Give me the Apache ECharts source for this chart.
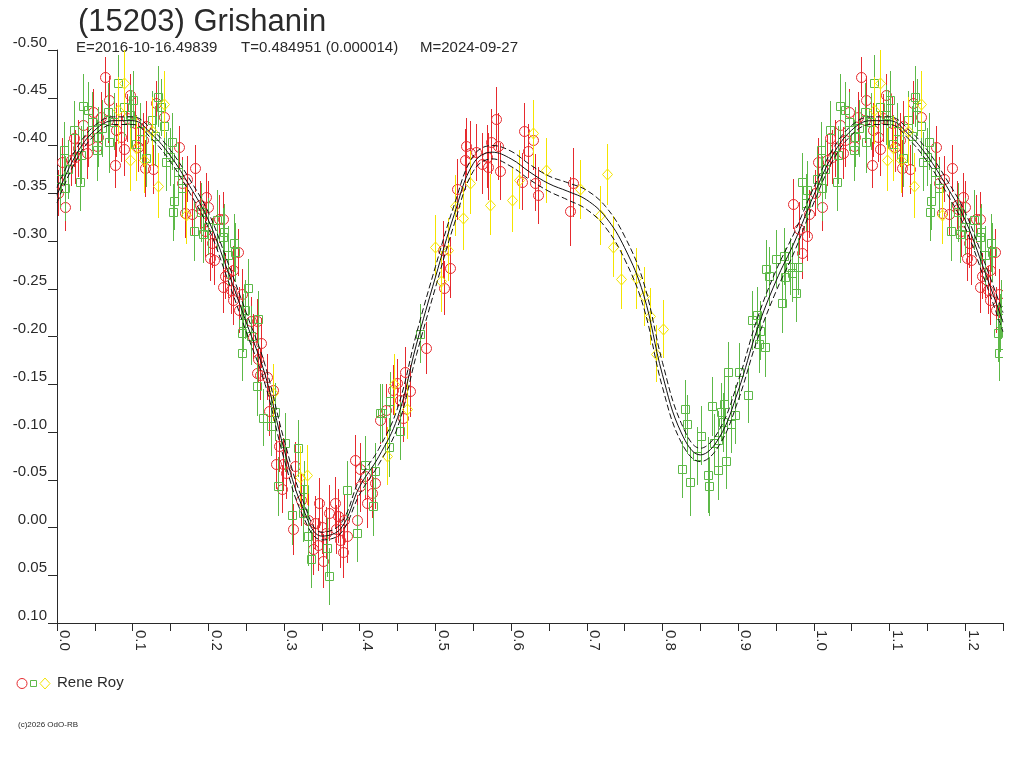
<!DOCTYPE html>
<html>
<head>
<meta charset="utf-8">
<script src="https://cdn.jsdelivr.net/npm/echarts@6/dist/echarts.min.js"></script>
<style>
  html, body { margin: 0; padding: 0; background: #fff; }
  #chart { width: 1024px; height: 768px; }
</style>
</head>
<body>
<div id="chart"></div>
<script>
// ── Lightcurve data: [phase, mag, error] ─────────────────────────────────
const redPts = [
  [0.063,-0.472,0.021],[0.069,-0.448,0.025],[0.096,-0.453,0.022],[0.047,-0.435,0.024],
  [0.022,-0.408,0.030],[0.006,-0.383,0.025],[0.018,-0.385,0.027],[0.001,-0.350,0.024],
  [0.011,-0.336,0.026],[0.028,-0.397,0.030],[0.041,-0.406,0.028],[0.054,-0.409,0.025],
  [0.067,-0.427,0.024],[0.078,-0.416,0.028],[0.085,-0.409,0.026],[0.092,-0.429,0.025],
  [0.103,-0.424,0.027],[0.077,-0.380,0.024],[0.114,-0.406,0.028],[0.127,-0.375,0.026],
  [0.116,-0.376,0.030],[0.131,-0.445,0.023],[0.141,-0.430,0.026],[0.161,-0.398,0.022],
  [0.182,-0.376,0.025],[0.165,-0.361,0.027],[0.172,-0.365,0.024],[0.169,-0.329,0.026],
  [0.178,-0.328,0.023],[0.197,-0.346,0.025],[0.190,-0.333,0.024],[0.200,-0.336,0.027],
  [0.214,-0.323,0.025],[0.202,-0.282,0.024],[0.208,-0.280,0.026],[0.239,-0.288,0.025],
  [0.219,-0.323,0.028],[0.226,-0.266,0.026],[0.189,-0.338,0.025],[0.222,-0.263,0.024],
  [0.219,-0.252,0.027],[0.230,-0.249,0.025],[0.233,-0.238,0.026],[0.241,-0.228,0.024],
  [0.257,-0.216,0.025],[0.264,-0.216,0.023],[0.270,-0.193,0.026],[0.259,-0.200,0.024],
  [0.266,-0.176,0.025],[0.268,-0.160,0.027],[0.277,-0.158,0.024],[0.280,-0.122,0.026],
  [0.285,-0.144,0.025],[0.294,-0.085,0.027],[0.290,-0.066,0.026],[0.299,-0.066,0.028],
  [0.297,-0.040,0.025],[0.303,-0.057,0.027],[0.314,-0.064,0.026],[0.312,0.002,0.027],
  [0.332,-0.008,0.029],[0.338,0.023,0.027],[0.341,-0.005,0.028],[0.346,-0.026,0.026],
  [0.350,-0.001,0.029],[0.352,0.035,0.028],[0.356,0.006,0.027],[0.360,-0.015,0.029],
  [0.367,-0.026,0.027],[0.371,-0.012,0.028],[0.369,0.002,0.026],[0.374,0.013,0.029],
  [0.378,0.026,0.027],[0.383,0.009,0.028],[0.396,-0.008,0.026],[0.394,-0.071,0.026],
  [0.400,-0.061,0.027],[0.407,-0.054,0.025],[0.409,-0.026,0.027],[0.416,-0.036,0.026],
  [0.420,-0.047,0.028],[0.427,-0.113,0.026],[0.435,-0.123,0.027],[0.449,-0.151,0.025],
  [0.460,-0.163,0.026],[0.466,-0.143,0.027],[0.457,-0.115,0.025],[0.453,-0.134,0.026],
  [0.400,-0.043,0.027],[0.345,0.018,0.028],[0.264,-0.162,0.025],[0.323,-0.029,0.027],
  [0.379,-0.008,0.026],[0.444,-0.144,0.026],[0.528,-0.354,0.032],[0.510,-0.291,0.030],
  [0.519,-0.272,0.032],[0.511,-0.251,0.028],[0.541,-0.399,0.030],[0.546,-0.392,0.034],
  [0.539,-0.385,0.032],[0.568,-0.388,0.033],[0.570,-0.378,0.035],[0.574,-0.404,0.034],
  [0.580,-0.428,0.033],[0.583,-0.399,0.035],[0.585,-0.373,0.030],[0.617,-0.415,0.030],
  [0.629,-0.406,0.032],[0.623,-0.394,0.028],[0.614,-0.362,0.030],[0.632,-0.361,0.030],
  [0.636,-0.348,0.030],[0.682,-0.361,0.036],[0.678,-0.331,0.036],[0.488,-0.188,0.027],
  [0.554,-0.393,0.030],[0.562,-0.381,0.032],[0.973,-0.339,0.026],[0.980,-0.313,0.028],
  [0.984,-0.287,0.027],[0.991,-0.305,0.026],[0.993,-0.328,0.025],[0.039,-0.392,0.027],
  [0.053,-0.399,0.026],[0.024,-0.388,0.028],[0.035,-0.421,0.027],[0.058,-0.430,0.026],
  [0.088,-0.396,0.028],[0.107,-0.398,0.026],[0.118,-0.420,0.027],[0.205,-0.298,0.026],
  [0.195,-0.310,0.027],[0.233,-0.270,0.025],[0.245,-0.245,0.026]
];

const greenPts = [
  [0.080,-0.465,0.030],[0.035,-0.441,0.034],[0.041,-0.437,0.030],[0.022,-0.416,0.031],
  [0.009,-0.395,0.030],[0.011,-0.355,0.034],[0.032,-0.390,0.030],[0.031,-0.362,0.031],
  [0.053,-0.395,0.032],[0.067,-0.435,0.030],[0.069,-0.404,0.033],[0.101,-0.448,0.030],
  [0.098,-0.427,0.031],[0.125,-0.427,0.030],[0.134,-0.451,0.032],[0.137,-0.440,0.030],
  [0.142,-0.420,0.031],[0.152,-0.404,0.030],[0.144,-0.383,0.031],[0.149,-0.388,0.030],
  [0.155,-0.342,0.031],[0.153,-0.330,0.030],[0.181,-0.310,0.031],[0.193,-0.307,0.030],
  [0.212,-0.322,0.031],[0.221,-0.309,0.030],[0.219,-0.304,0.031],[0.234,-0.298,0.030],
  [0.235,-0.288,0.031],[0.118,-0.387,0.030],[0.054,-0.409,0.031],[0.105,-0.402,0.030],
  [0.096,-0.432,0.031],[0.252,-0.251,0.030],[0.248,-0.228,0.031],[0.246,-0.214,0.030],
  [0.244,-0.204,0.031],[0.245,-0.183,0.030],[0.257,-0.201,0.031],[0.266,-0.218,0.030],
  [0.264,-0.148,0.031],[0.272,-0.115,0.030],[0.283,-0.106,0.031],[0.288,-0.121,0.030],
  [0.301,-0.089,0.031],[0.318,-0.083,0.030],[0.480,-0.203,0.031],[0.427,-0.120,0.030],
  [0.440,-0.132,0.031],[0.453,-0.101,0.030],[0.292,-0.043,0.031],[0.327,-0.040,0.030],
  [0.310,-0.013,0.031],[0.325,-0.015,0.030],[0.332,0.009,0.031],[0.336,0.033,0.030],
  [0.357,0.021,0.031],[0.360,0.051,0.030],[0.383,-0.039,0.031],[0.396,0.006,0.030],
  [0.407,-0.065,0.031],[0.420,-0.059,0.030],[0.418,-0.022,0.031],[0.429,-0.120,0.030],
  [0.439,-0.084,0.031],[0.830,-0.124,0.030],[0.832,-0.108,0.031],[0.826,-0.061,0.030],
  [0.837,-0.048,0.036],[0.846,-0.075,0.030],[0.851,-0.096,0.031],[0.860,-0.055,0.040],
  [0.862,-0.043,0.031],[0.868,-0.089,0.030],[0.873,-0.060,0.031],[0.874,-0.092,0.030],
  [0.865,-0.127,0.031],[0.877,-0.121,0.030],[0.882,-0.129,0.031],[0.884,-0.070,0.030],
  [0.880,-0.110,0.031],[0.890,-0.108,0.030],[0.887,-0.163,0.031],[0.901,-0.163,0.030],
  [0.896,-0.118,0.031],[0.913,-0.139,0.030],[0.918,-0.217,0.031],[0.925,-0.222,0.030],
  [0.929,-0.206,0.031],[0.927,-0.192,0.030],[0.935,-0.189,0.031],[0.937,-0.271,0.030],
  [0.941,-0.263,0.031],[0.950,-0.281,0.030],[0.958,-0.235,0.031],[0.960,-0.284,0.030],
  [0.962,-0.262,0.031],[0.968,-0.273,0.030],[0.971,-0.267,0.031],[0.979,-0.273,0.030],
  [0.977,-0.246,0.031],[0.984,-0.362,0.030],[0.991,-0.353,0.031],[0.990,-0.340,0.030],
  [0.046,-0.425,0.031],[0.060,-0.418,0.030],[0.088,-0.440,0.031],[0.110,-0.415,0.030],
  [0.015,-0.375,0.031],[0.004,-0.365,0.030],[0.160,-0.372,0.031],[0.165,-0.355,0.030],
  [0.190,-0.330,0.031],[0.200,-0.315,0.030],[0.226,-0.285,0.031],[0.075,-0.425,0.030],
  [0.130,-0.410,0.031]
];

const yellowPts = [
  [0.088,-0.465,0.035],[0.080,-0.437,0.035],[0.125,-0.415,0.036],[0.142,-0.443,0.035],
  [0.105,-0.397,0.034],[0.097,-0.385,0.033],[0.115,-0.385,0.035],[0.133,-0.358,0.034],
  [0.170,-0.327,0.030],[0.285,-0.141,0.030],[0.321,-0.053,0.032],[0.330,-0.055,0.031],
  [0.445,-0.150,0.032],[0.436,-0.075,0.030],[0.463,-0.124,0.031],[0.499,-0.294,0.033],
  [0.517,-0.291,0.033],[0.526,-0.337,0.032],[0.536,-0.324,0.033],[0.546,-0.361,0.033],
  [0.572,-0.338,0.032],[0.601,-0.343,0.034],[0.611,-0.364,0.031],[0.629,-0.413,0.035],
  [0.646,-0.374,0.034],[0.691,-0.354,0.031],[0.718,-0.327,0.031],[0.727,-0.370,0.032],
  [0.735,-0.294,0.032],[0.745,-0.260,0.031],[0.765,-0.261,0.032],[0.775,-0.242,0.031],
  [0.783,-0.221,0.030],[0.801,-0.208,0.030],[0.792,-0.182,0.030],[0.508,-0.258,0.032]
];

// ── Fitted curve and its envelope ────────────────────────────────────────
const fitPhase = [0.000,0.025,0.050,0.075,0.100,0.125,0.150,0.175,0.200,0.225,0.250,0.275,0.300,0.325,0.350,
  0.375,0.400,0.425,0.450,0.475,0.500,0.525,0.550,0.575,0.600,0.625,0.650,0.675,0.700,0.725,0.750,0.775,
  0.800,0.825,0.850,0.875,0.900,0.925,0.950,0.975,1.000];
const fitMag = [-0.348,-0.390,-0.416,-0.426,-0.426,-0.412,-0.389,-0.358,-0.322,-0.270,-0.215,-0.160,-0.082,-0.020,0.009,
  0.001,-0.043,-0.074,-0.115,-0.192,-0.262,-0.328,-0.381,-0.393,-0.386,-0.372,-0.360,-0.352,-0.343,-0.325,-0.293,-0.244,
  -0.160,-0.099,-0.076,-0.094,-0.143,-0.207,-0.258,-0.300,-0.348];
const fitHi = [-0.356,-0.396,-0.421,-0.430,-0.430,-0.417,-0.395,-0.365,-0.330,-0.279,-0.225,-0.170,-0.092,-0.028,0.005,
  -0.004,-0.051,-0.082,-0.125,-0.203,-0.273,-0.338,-0.389,-0.400,-0.394,-0.380,-0.368,-0.361,-0.353,-0.336,-0.305,-0.257,
  -0.173,-0.109,-0.083,-0.102,-0.153,-0.218,-0.269,-0.310,-0.356];
const fitLo = [-0.340,-0.384,-0.411,-0.422,-0.422,-0.407,-0.383,-0.351,-0.314,-0.261,-0.205,-0.150,-0.072,-0.012,0.013,
  0.006,-0.035,-0.066,-0.105,-0.181,-0.251,-0.318,-0.373,-0.386,-0.378,-0.364,-0.352,-0.343,-0.333,-0.314,-0.281,-0.231,
  -0.147,-0.089,-0.069,-0.086,-0.133,-0.196,-0.247,-0.290,-0.340];

const xTicks = ['0.0','0.1','0.2','0.3','0.4','0.5','0.6','0.7','0.8','0.9','1.0','1.1','1.2'];

const TITLE = '(15203) Grishanin';
const SUB_E = 'E=2016-10-16.49839';
const SUB_T = 'T=0.484951 (0.000014)';
const SUB_M = 'M=2024-09-27';
const OBSERVER = 'Rene Roy';
const COPY = '(c)2026 OdO-RB';

// ── Style ────────────────────────────────────────────────────────────────
const FONT = '"Liberation Sans", Arial, sans-serif';
const INK = '#2a2a2a';
const RED = '#e62a2e';
const GREEN = '#5db948';
const YELLOW = '#f4e400';

// phased curve is shown a quarter cycle past 1.0
function wrapPts(pts) {
  return pts.concat(pts.filter(p => p[0] < 0.25).map(p => [p[0] + 1, p[1], p[2]]));
}
function curve(mags) {
  const out = fitPhase.map((p, i) => [p, mags[i]]);
  fitPhase.forEach((p, i) => { if (p > 0 && p <= 0.25) out.push([p + 1, mags[i]]); });
  return out;
}

function markerRender(kind, color) {
  return function (params, api) {
    const x = api.value(0), y = api.value(1), e = api.value(2);
    const c = api.coord([x, y]);
    const t = api.coord([x, y - e]);
    const b = api.coord([x, y + e]);
    const cx = Math.round(c[0]) + 0.5, cy = Math.round(c[1]) + 0.5;
    const kids = [{
      type: 'line',
      shape: { x1: cx, y1: Math.round(t[1]), x2: cx, y2: Math.round(b[1]) },
      style: { stroke: color, lineWidth: 1 }
    }];
    if (kind === 'circle') {
      kids.push({ type: 'circle', shape: { cx, cy, r: 5 }, style: { fill: 'none', stroke: color, lineWidth: 1 } });
    } else if (kind === 'square') {
      kids.push({ type: 'rect', shape: { x: cx - 4, y: cy - 4, width: 8, height: 8 }, style: { fill: 'none', stroke: color, lineWidth: 1 } });
    } else {
      kids.push({ type: 'polygon', shape: { points: [[cx, cy - 5.5], [cx + 5, cy], [cx, cy + 5.5], [cx - 5, cy]] },
        style: { fill: 'none', stroke: color, lineWidth: 1 } });
    }
    return { type: 'group', children: kids };
  };
}

function pointSeries(name, pts, kind, color) {
  return {
    name, type: 'custom', data: wrapPts(pts), clip: true,
    encode: { x: 0, y: 1 },
    renderItem: markerRender(kind, color),
    z: 2, silent: true
  };
}

function lineSeries(name, mags, dashed) {
  return {
    name, type: 'line', data: curve(mags), smooth: 0.4, showSymbol: false, symbol: 'none',
    lineStyle: { color: '#111', width: 1, type: dashed ? [6, 3] : 'solid' },
    z: 5, silent: true, animation: false
  };
}

const chart = echarts.init(document.getElementById('chart'), null, { renderer: 'canvas' });

chart.setOption({
  animation: false,
  backgroundColor: '#fff',
  textStyle: { fontFamily: FONT },
  title: {
    text: TITLE, left: 73, top: 2,
    textStyle: { fontFamily: FONT, fontSize: 31, fontWeight: 'normal', color: INK }
  },
  grid: { left: 57, right: 21, top: 50, bottom: 145 },
  xAxis: {
    type: 'value', min: 0, max: 1.25, interval: 0.05,
    axisLine: { show: true, onZero: false, lineStyle: { color: INK, width: 1 } },
    axisTick: { show: true, length: 8, lineStyle: { color: INK } },
    splitLine: { show: false },
    axisLabel: {
      rotate: -90, margin: 7, fontSize: 15, color: INK, fontFamily: FONT,
      verticalAlign: 'bottom', showMaxLabel: true,
      formatter: v => {
        const k = Math.round(v * 100);
        return k % 10 === 0 ? (xTicks[k / 10] || '') : '';
      }
    }
  },
  yAxis: {
    type: 'value', inverse: true, min: -0.5, max: 0.1, interval: 0.05,
    axisLine: { show: true, onZero: false, lineStyle: { color: INK, width: 1 } },
    axisTick: { show: true, length: 9, lineStyle: { color: INK } },
    splitLine: { show: false },
    axisLabel: {
      fontSize: 15, color: INK, fontFamily: FONT, margin: 10, verticalAlign: 'bottom',
      formatter: v => (Math.abs(v) < 1e-9 ? 0 : v).toFixed(2)
    }
  },
  series: [
    pointSeries('red', redPts, 'circle', RED),
    pointSeries('green', greenPts, 'square', GREEN),
    pointSeries('yellow', yellowPts, 'diamond', YELLOW),
    lineSeries('fit', fitMag, false),
    lineSeries('fitHi', fitHi, true),
    lineSeries('fitLo', fitLo, true)
  ],
  graphic: [
    { type: 'text', left: 76, top: 40, style: { text: SUB_E, fontSize: 15, fontFamily: FONT, fill: INK } },
    { type: 'text', left: 241, top: 40, style: { text: SUB_T, fontSize: 15, fontFamily: FONT, fill: INK } },
    { type: 'text', left: 420, top: 40, style: { text: SUB_M, fontSize: 15, fontFamily: FONT, fill: INK } },
    { type: 'circle', shape: { cx: 22, cy: 683.5, r: 5 }, style: { fill: 'none', stroke: RED, lineWidth: 1 } },
    { type: 'rect', shape: { x: 30.5, y: 680.5, width: 6, height: 6 }, style: { fill: 'none', stroke: GREEN, lineWidth: 1 } },
    { type: 'polygon', shape: { points: [[45, 678], [50, 683.5], [45, 689], [40, 683.5]] }, style: { fill: 'none', stroke: YELLOW, lineWidth: 1 } },
    { type: 'text', left: 57, top: 675, style: { text: OBSERVER, fontSize: 15, fontFamily: FONT, fill: INK } },
    { type: 'text', left: 18, top: 721, style: { text: COPY, fontSize: 8, fontFamily: FONT, fill: INK } }
  ]
});
</script>
</body>
</html>
